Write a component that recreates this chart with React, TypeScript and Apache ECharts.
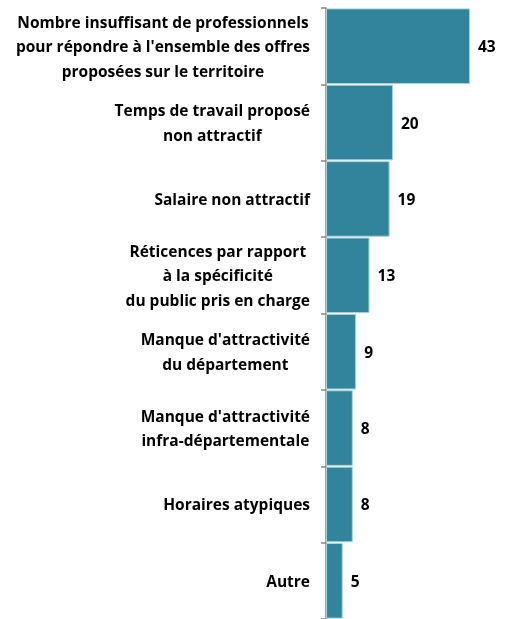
import React, { useEffect, useRef } from "react";
import * as echarts from "echarts";

const categories: string[] = [
  "Nombre insuffisant de professionnels\npour répondre à l'ensemble des offres\nproposées sur le territoire",
  "Temps de travail proposé\nnon attractif",
  "Salaire non attractif",
  "Réticences par rapport\nà la spécificité\ndu public pris en charge",
  "Manque d'attractivité\ndu département",
  "Manque d'attractivité\ninfra-départementale",
  "Horaires atypiques",
  "Autre",
];
const values: number[] = [43, 20, 19, 13, 9, 8, 8, 5];

export default function App() {
  const ref = useRef<HTMLDivElement>(null);
  useEffect(() => {
    if (!ref.current) return;
    const chart = echarts.init(ref.current, undefined, { renderer: "svg" });
    const font = "'Open Sans', sans-serif";
    const size = 15.5;
    chart.setOption({
      animation: false,
      grid: { left: 326, right: 18.6, top: 8, bottom: -1, containLabel: false },
      xAxis: { type: "value", min: 0, max: 50, show: false },
      yAxis: {
        type: "category",
        inverse: true,
        data: categories,
        axisLine: { show: true, lineStyle: { color: "#868686", width: 1.5 } },
        axisTick: { show: true, length: 5, lineStyle: { color: "#868686", width: 1.5 } },
        axisLabel: {
          margin: 16,
          align: "right",
          fontFamily: font,
          fontWeight: "bold",
          fontSize: size,
          color: "#000",
          lineHeight: 24.5,
          formatter: (v: string) =>
            v.split("\n").map((l) => `{c|${l}}`).join("\n"),
          rich: {
            c: {
              align: "center",
              fontFamily: font,
              fontWeight: "bold",
              fontSize: size,
              color: "#000",
              lineHeight: 24.5,
            },
          },
        },
      },
      series: [
        {
          type: "bar",
          data: values,
          barCategoryGap: "1%",
          itemStyle: { color: "#31849B", borderColor: "#a9d3de", borderWidth: 1 },
          label: {
            show: true,
            position: "right",
            distance: 8,
            fontFamily: font,
            fontWeight: "bold",
            fontSize: size,
            color: "#000",
          },
        },
      ],
    });
    return () => chart.dispose();
  }, []);
  return (
    <div
      ref={ref}
      style={{ position: "fixed", left: 0, top: 0, width: 512, height: 619 }}
    />
  );
}
